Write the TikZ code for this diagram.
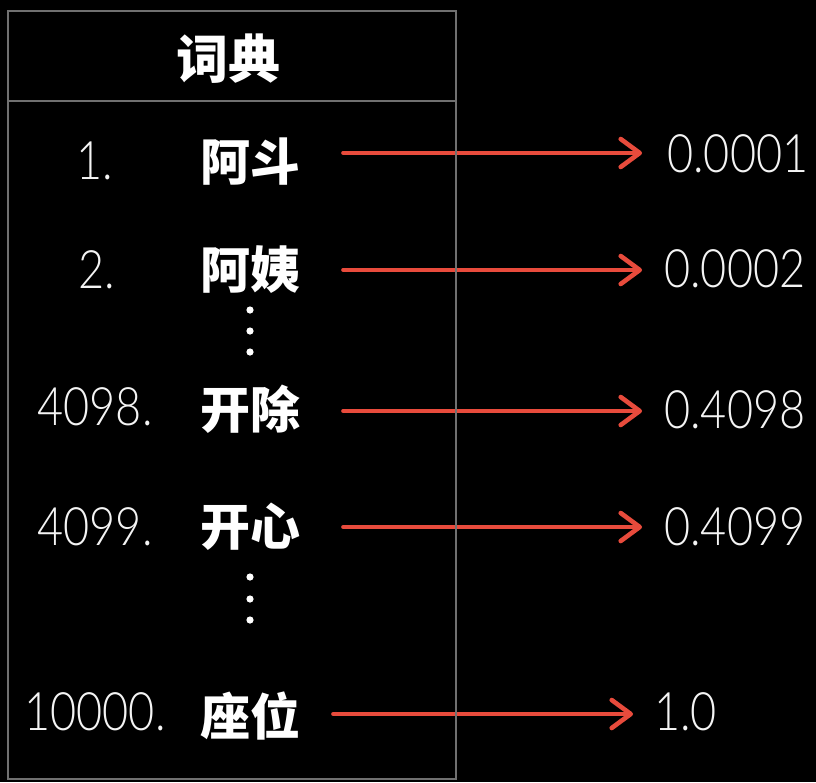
\documentclass[tikz,border=0pt]{standalone}
\usepackage{fontspec}
\usetikzlibrary{arrows.meta}
\newfontfamily\cjk{Noto Sans CJK SC}
\IfFontExistsTF{Lato Light}{\newfontfamily\numfont[FakeStretch=0.85]{Lato Light}}{%
  \IfFontExistsTF{Open Sans Light}{\newfontfamily\numfont[FakeStretch=0.85]{Open Sans Light}}{%
    \newfontfamily\numfont[FakeStretch=0.85]{Liberation Sans}}}
\definecolor{boxgrey}{HTML}{707070}
\definecolor{arrred}{HTML}{E84B3C}
\definecolor{txtwhite}{HTML}{F4F4F4}
\begin{document}
\begin{tikzpicture}[x=1pt,y=-1pt,
  cn/.style={inner sep=0pt, text=white, font=\cjk\bfseries\fontsize{50}{60}\selectfont},
  num/.style={inner sep=0pt, anchor=base, text=txtwhite, font=\numfont\fontsize{53}{60}\selectfont},
  val/.style={inner sep=0pt, anchor=base west, text=txtwhite, font=\numfont\fontsize{53}{60}\selectfont},
  redarrow/.style={draw=arrred, line width=3.6pt, line cap=round,
     -{Straight Barb[length=19pt,width=28pt,line width=4.6pt,round]}},
  dotnode/.style={circle, fill=white, inner sep=0pt, minimum size=7.2pt},
  boxline/.style={draw=boxgrey, line width=1.5pt}
]
\fill[black] (0,0) rectangle (816,782);
\useasboundingbox (0,0) rectangle (816,782);

% arrows
\coordinate (s1) at (343,153); \coordinate (e1) at (642,153);
\coordinate (s2) at (343,270); \coordinate (e2) at (642,270);
\coordinate (s3) at (343,411); \coordinate (e3) at (642,411);
\coordinate (s4) at (343,527); \coordinate (e4) at (642,527);
\coordinate (s5) at (333,714); \coordinate (e5) at (633,714);
\draw[redarrow] (s1) -- (e1);
\draw[redarrow] (s2) -- (e2);
\draw[redarrow] (s3) -- (e3);
\draw[redarrow] (s4) -- (e4);
\draw[redarrow] (s5) -- (e5);

% box
\draw[boxline] (8,11) rectangle (456,779);
\draw[boxline] (8,101) -- (456,101);

% title
\node[cn, font=\cjk\bfseries\fontsize{52}{60}\selectfont] (title) at (228,59) {词典};

% rows
\node[num] (n1) at (95,179) {1.};
\node[cn] (w1) at (250,162) {阿斗};
\node[val] (v1) at (667,172) {0.0001};

\node[num] (n2) at (97,288) {2.};
\node[cn] (w2) at (250,270) {阿姨};
\node[val] (v2) at (664,287) {0.0002};

\node[num] (n3) at (95,425) {4098.};
\node[cn] (w3) at (250,409) {开除};
\node[val] (v3) at (664,428) {0.4098};

\node[num] (n4) at (95,545) {4099.};
\node[cn] (w4) at (250,527) {开心};
\node[val] (v4) at (664,545) {0.4099};

\node[num] (n5) at (95,730) {10000.};
\node[cn] (w5) at (250,716) {座位};
\node[val] (v5) at (654,730) {1.0};

% dots
\node[dotnode] (d1) at (250,310) {};
\node[dotnode] (d2) at (250,331) {};
\node[dotnode] (d3) at (250,352) {};
\node[dotnode] (d4) at (250,577) {};
\node[dotnode] (d5) at (250,599) {};
\node[dotnode] (d6) at (250,620) {};
\end{tikzpicture}
\end{document}
